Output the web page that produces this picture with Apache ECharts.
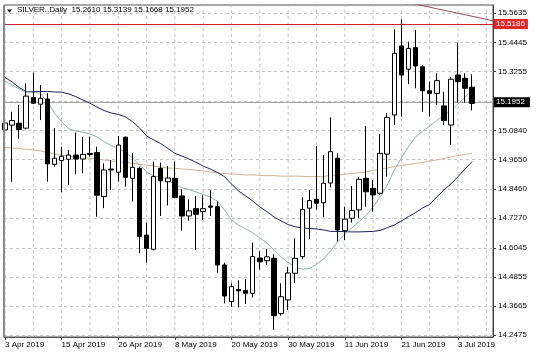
<!DOCTYPE html>
<html><head><meta charset="utf-8">
<script src="https://cdn.jsdelivr.net/npm/echarts@6/dist/echarts.min.js"></script>
<style>html,body{margin:0;padding:0;background:#fff}#c{width:536px;height:358px}</style>
</head><body><div id="c"></div>
<script>
const symbolName = 'SILVER..Daily';
const dates = ['3 Apr 2019','4 Apr 2019','5 Apr 2019','8 Apr 2019','9 Apr 2019','10 Apr 2019','11 Apr 2019','12 Apr 2019','15 Apr 2019','16 Apr 2019','17 Apr 2019','18 Apr 2019','22 Apr 2019','23 Apr 2019','24 Apr 2019','25 Apr 2019','26 Apr 2019','29 Apr 2019','30 Apr 2019','1 May 2019','2 May 2019','3 May 2019','6 May 2019','7 May 2019','8 May 2019','9 May 2019','10 May 2019','13 May 2019','14 May 2019','15 May 2019','16 May 2019','17 May 2019','20 May 2019','21 May 2019','22 May 2019','23 May 2019','24 May 2019','27 May 2019','28 May 2019','29 May 2019','30 May 2019','31 May 2019','3 Jun 2019','4 Jun 2019','5 Jun 2019','6 Jun 2019','7 Jun 2019','10 Jun 2019','11 Jun 2019','12 Jun 2019','13 Jun 2019','14 Jun 2019','17 Jun 2019','18 Jun 2019','19 Jun 2019','20 Jun 2019','21 Jun 2019','24 Jun 2019','25 Jun 2019','26 Jun 2019','27 Jun 2019','28 Jun 2019','1 Jul 2019','2 Jul 2019','3 Jul 2019','4 Jul 2019','5 Jul 2019'];
const opens = [15.087,15.106,15.114,15.094,15.219,15.192,15.213,14.946,14.962,14.967,14.984,14.968,14.991,14.994,14.814,14.927,14.914,15.057,14.889,14.930,14.657,14.599,14.930,14.875,14.889,14.817,14.735,14.765,14.753,14.776,14.773,14.535,14.385,14.435,14.431,14.419,14.563,14.552,14.562,14.336,14.392,14.501,14.569,14.767,14.803,14.789,14.870,14.971,14.675,14.726,14.760,14.889,14.848,14.828,14.988,15.148,15.430,15.335,15.423,15.345,15.247,15.236,15.185,15.107,15.311,15.298,15.2610];
const highs = [15.176,15.161,15.189,15.277,15.321,15.270,15.237,15.094,15.018,15.005,15.076,15.059,15.059,15.018,14.950,14.964,15.062,15.060,14.991,14.937,14.708,14.957,14.953,14.939,14.957,14.844,14.803,14.817,14.820,14.841,14.794,14.544,14.460,14.472,14.478,14.626,14.591,14.601,14.579,14.460,14.527,14.644,14.812,14.841,15.021,14.984,15.138,14.991,14.773,14.858,14.894,15.103,14.882,15.070,15.155,15.498,15.539,15.447,15.495,15.352,15.284,15.318,15.243,15.304,15.443,15.318,15.3139];
const lows = [15.017,14.875,15.050,15.089,15.192,15.127,14.875,14.937,14.832,14.862,14.906,14.910,14.978,14.732,14.767,14.841,14.875,14.855,14.794,14.583,14.544,14.594,14.735,14.778,14.807,14.675,14.716,14.596,14.719,14.735,14.503,14.378,14.364,14.361,14.375,14.402,14.516,14.535,14.269,14.328,14.351,14.461,14.558,14.640,14.762,14.730,14.852,14.630,14.637,14.708,14.726,14.773,14.753,14.821,14.896,15.107,15.141,15.274,15.257,15.161,15.141,15.189,15.107,15.025,15.199,15.199,15.1668];
const closes = [15.115,15.125,15.089,15.225,15.196,15.216,14.948,14.971,14.979,14.984,14.968,14.987,14.986,14.820,14.923,14.923,15.025,14.893,14.934,14.651,14.603,14.896,14.879,14.890,14.811,14.735,14.756,14.742,14.765,14.771,14.535,14.408,14.446,14.429,14.419,14.569,14.548,14.568,14.328,14.405,14.502,14.562,14.762,14.798,14.787,14.869,14.998,14.678,14.722,14.757,14.885,14.834,14.821,14.991,15.138,15.400,15.311,15.420,15.348,15.247,15.236,15.288,15.125,15.294,15.284,15.257,15.1952];
// moving averages
const maFast = [15.287,15.270,15.254,15.242,15.240,15.236,15.201,15.156,15.120,15.091,15.082,15.078,15.070,15.058,15.039,15.023,15.013,14.995,14.974,14.943,14.916,14.898,14.894,14.886,14.862,14.851,14.843,14.833,14.823,14.813,14.796,14.760,14.719,14.698,14.682,14.666,14.645,14.625,14.596,14.567,14.545,14.527,14.518,14.520,14.537,14.559,14.592,14.629,14.661,14.686,14.711,14.737,14.772,14.813,14.862,14.923,14.972,15.019,15.058,15.082,15.103,15.125,15.146,15.166,15.193,15.221,15.250];
const maMid = [15.301,15.283,15.260,15.243,15.243,15.244,15.244,15.242,15.241,15.234,15.223,15.209,15.196,15.180,15.166,15.156,15.150,15.140,15.121,15.095,15.062,15.046,15.031,15.011,14.991,14.980,14.968,14.954,14.939,14.927,14.913,14.896,14.866,14.837,14.817,14.796,14.772,14.753,14.731,14.715,14.700,14.691,14.686,14.684,14.682,14.678,14.672,14.672,14.671,14.670,14.670,14.671,14.672,14.676,14.687,14.698,14.715,14.732,14.749,14.768,14.782,14.813,14.841,14.866,14.896,14.927,14.958];
const maSlow = [15.015,15.013,15.011,15.007,15.005,15.001,14.995,14.988,14.984,14.980,14.976,14.974,14.971,14.968,14.964,14.960,14.957,14.954,14.950,14.946,14.943,14.939,14.935,14.931,14.930,14.927,14.925,14.922,14.919,14.915,14.911,14.909,14.907,14.905,14.903,14.903,14.901,14.900,14.900,14.898,14.898,14.898,14.897,14.896,14.896,14.897,14.900,14.903,14.905,14.909,14.911,14.915,14.921,14.927,14.931,14.937,14.941,14.945,14.950,14.954,14.960,14.964,14.970,14.976,14.982,14.987,14.991];
const xLabelDates = ['3 Apr 2019','15 Apr 2019','26 Apr 2019','8 May 2019','20 May 2019','30 May 2019','11 Jun 2019','21 Jun 2019','3 Jul 2019'];
const yTickLabels = ['14.2475','14.3665','14.4855','14.6045','14.7270','14.8460','14.9650','15.0840','15.2030','15.3255','15.4445','15.5635'];
const hiddenTickLabel = '15.2030';
const trendLine = [[57, 15.6068], [69, 15.5327]];
const resistanceLevel = 15.5186;

const FONT = "'Liberation Sans', Arial, sans-serif";
const n = dates.length;
const lastPrice = closes[n - 1];
const candleData = dates.map((d, i) => [i, opens[i], closes[i], lows[i], highs[i]]);
const labelIdx = xLabelDates.map(d => dates.indexOf(d));
const gridIdx = [];
for (let i = 0; i <= 68; i += 4) gridIdx.push(i);
const yTickValues = yTickLabels.map(Number);
const xMin = -0.14, xMax = 68.94, yMin = 14.2405, yMax = 15.5973;
const fmt = v => v.toFixed(4);

// vertical dashed grid lines (every 4 bars) as line series on the chart's own scales
const gridSeries = gridIdx.map(v => ({
  type: 'line', name: 'vgrid' + v, data: [[v, yMin], [v, yMax]], showSymbol: false, symbol: 'none',
  silent: true, z: 1, clip: false, lineStyle: {color: '#c4c4c4', width: 1, type: [3, 3]}
}));

const chart = echarts.init(document.getElementById('c'), null, {renderer: 'canvas'});
chart.setOption({
  animation: false,
  backgroundColor: '#ffffff',
  textStyle: {fontFamily: FONT},
  grid: {left: 4, right: 43, top: 5, bottom: 21, show: true, borderColor: '#505050', borderWidth: 1},
  xAxis: {
    type: 'value', min: xMin, max: xMax, position: 'bottom',
    axisLine: {show: true, onZero: false, lineStyle: {color: '#505050'}},
    axisTick: {show: true, length: 3, customValues: labelIdx, lineStyle: {color: '#505050'}},
    axisLabel: {customValues: labelIdx, formatter: v => dates[Math.round(v)] || '', align: 'left', margin: 4,
      fontSize: 8, color: '#000', fontFamily: FONT},
    splitLine: {show: false}
  },
  yAxis: {
    type: 'value', position: 'right', min: yMin, max: yMax, scale: true,
    axisLine: {show: true, onZero: false, lineStyle: {color: '#404040'}},
    axisTick: {show: true, length: 3, customValues: yTickValues, lineStyle: {color: '#404040'}},
    axisLabel: {customValues: yTickValues, margin: 5, fontSize: 8, color: '#000', fontFamily: FONT,
      formatter: v => { const s = yTickLabels[yTickValues.indexOf(v)]; return s === hiddenTickLabel ? '' : s; }},
    splitLine: {show: true, lineStyle: {color: '#c4c4c4', type: [3, 3], width: 1}}
  },
  graphic: [
    {type: 'rect', shape: {x: 3, y: 5, width: 2, height: 332}, style: {fill: '#8a8a8a'}, silent: true, z: 10},
    {type: 'polygon', shape: {points: [[7, 9.5], [12, 9.5], [9.5, 12.5]]}, style: {fill: '#000'}, z: 10},
    {type: 'text', left: 17, top: 6, z: 10, style: {text: symbolName + '  ' + [opens[n-1], highs[n-1], lows[n-1], closes[n-1]].map(fmt).join(' '),
      font: '8px ' + FONT, fill: '#000'}}
  ],
  series: gridSeries.concat([
    {type: 'line', name: 'MA slow', data: maSlow.map((v, i) => [i, v]), showSymbol: false, symbol: 'none',
      lineStyle: {color: '#c9b497', width: 1}, z: 2},
    {type: 'line', name: 'MA mid', data: maMid.map((v, i) => [i, v]), showSymbol: false, symbol: 'none',
      lineStyle: {color: '#1c2058', width: 1}, z: 2},
    {type: 'line', name: 'MA fast', data: maFast.map((v, i) => [i, v]), showSymbol: false, symbol: 'none',
      lineStyle: {color: '#8db3aa', width: 1}, z: 2},
    {type: 'line', name: 'trend', data: trendLine, showSymbol: false, symbol: 'none', clip: true,
      lineStyle: {color: '#9c4d5c', width: 1}, z: 2},
    {type: 'candlestick', name: symbolName, data: candleData, encode: {x: 0, y: [1, 2, 3, 4]},
      barWidth: 5, z: 3,
      itemStyle: {color: '#ffffff', color0: '#000000', borderColor: '#000000', borderColor0: '#000000', borderWidth: 1},
      markLine: {
        symbol: 'none', silent: true, animation: false, z: 2,
        data: [
          {yAxis: resistanceLevel, lineStyle: {color: '#c8282d', width: 1, type: 'solid'},
            label: {show: true, position: 'end', formatter: fmt(resistanceLevel), backgroundColor: '#e3262b', color: '#fff',
              padding: [1, 3, 1, 2], fontSize: 8, fontFamily: FONT, distance: 1}},
          {yAxis: lastPrice, lineStyle: {color: '#a8a8a8', width: 1, type: 'solid'},
            label: {show: true, position: 'end', formatter: fmt(lastPrice), backgroundColor: '#000', color: '#fff',
              padding: [1, 5, 1, 2], fontSize: 8, fontFamily: FONT, distance: 1}}
        ]
      }
    }
  ])
});
</script>
</body></html>
